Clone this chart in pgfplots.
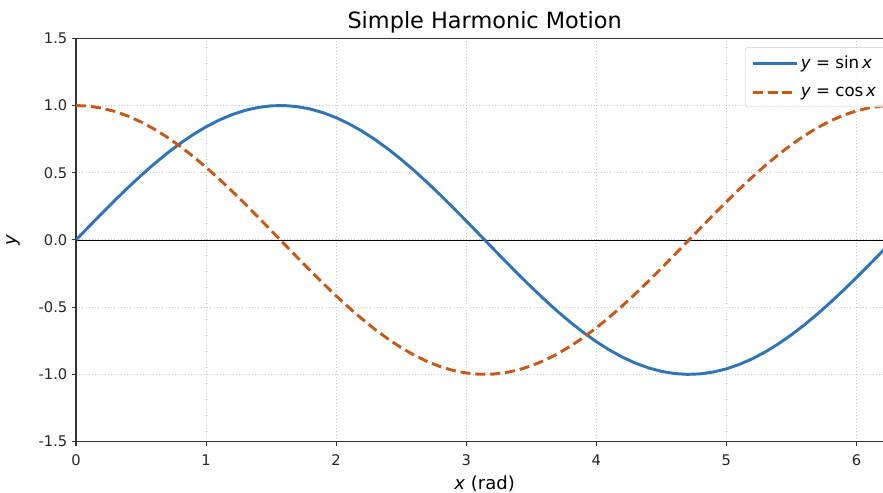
\documentclass[border=0pt]{standalone}
\usepackage{pgfplots}
\pgfplotsset{compat=1.18}
\usepackage{pgfplotstable}
\usepackage{fontspec}
\setmainfont{DejaVu Sans}

\definecolor{sinblue}{RGB}{49,116,182}
\definecolor{cosorange}{RGB}{200,88,24}
\definecolor{spine}{RGB}{51,51,51}

% x, sin x, cos x
\pgfplotstableread{
x      s        c
0.0    0.0000   1.0000
0.1    0.0998   0.9950
0.2    0.1987   0.9801
0.3    0.2955   0.9553
0.4    0.3894   0.9211
0.5    0.4794   0.8776
0.6    0.5646   0.8253
0.7    0.6442   0.7648
0.8    0.7174   0.6967
0.9    0.7833   0.6216
1.0    0.8415   0.5403
1.1    0.8912   0.4536
1.2    0.9320   0.3624
1.3    0.9636   0.2675
1.4    0.9854   0.1700
1.5    0.9975   0.0707
1.6    0.9996  -0.0292
1.7    0.9917  -0.1288
1.8    0.9738  -0.2272
1.9    0.9463  -0.3233
2.0    0.9093  -0.4161
2.1    0.8632  -0.5048
2.2    0.8085  -0.5885
2.3    0.7457  -0.6663
2.4    0.6755  -0.7374
2.5    0.5985  -0.8011
2.6    0.5155  -0.8569
2.7    0.4274  -0.9041
2.8    0.3350  -0.9422
2.9    0.2392  -0.9710
3.0    0.1411  -0.9900
3.1    0.0416  -0.9991
3.2   -0.0584  -0.9983
3.3   -0.1577  -0.9875
3.4   -0.2555  -0.9668
3.5   -0.3508  -0.9365
3.6   -0.4425  -0.8968
3.7   -0.5298  -0.8481
3.8   -0.6119  -0.7910
3.9   -0.6878  -0.7259
4.0   -0.7568  -0.6536
4.1   -0.8183  -0.5748
4.2   -0.8716  -0.4903
4.3   -0.9162  -0.4008
4.4   -0.9516  -0.3073
4.5   -0.9775  -0.2108
4.6   -0.9937  -0.1122
4.7   -0.9999  -0.0124
4.8   -0.9962   0.0875
4.9   -0.9825   0.1865
5.0   -0.9589   0.2837
5.1   -0.9258   0.3780
5.2   -0.8835   0.4685
5.3   -0.8323   0.5544
5.4   -0.7728   0.6347
5.5   -0.7055   0.7087
5.6   -0.6313   0.7756
5.7   -0.5507   0.8347
5.8   -0.4646   0.8855
5.9   -0.3739   0.9275
6.0   -0.2794   0.9602
6.1   -0.1822   0.9833
6.2   -0.0831   0.9965
6.2832 0.0000   1.0000
}\waves

\begin{document}
\begin{tikzpicture}
\begin{axis}[
  width=613pt, height=302.5pt,
  scale only axis,
  xmin=0, xmax=6.2832,
  ymin=-1.5, ymax=1.5,
  xtick={0,1,2,3,4,5,6},
  ytick={-1.5,-1,-0.5,0,0.5,1,1.5},
  xtick pos=bottom, ytick pos=left,
  tick align=outside,
  major tick length=3pt,
  every tick/.style={spine, line width=0.8pt},
  axis line style={spine, line width=0.8pt},
  /pgf/number format/assume math mode=true,
  yticklabel style={/pgf/number format/fixed, /pgf/number format/fixed zerofill,
    /pgf/number format/precision=1},
  xticklabel style={yshift=-3pt},
  ticklabel style={font=\fontsize{11}{13}\selectfont, text=black!85},
  grid=major,
  major grid style={dotted, black!22, line width=0.7pt},
  every axis title shift=0pt,
  title={Simple Harmonic Motion},
  title style={font=\fontsize{16.8}{19}\selectfont,
    at={(axis description cs:0.5,1.023)}, anchor=base},
  xlabel={\textit{x} (rad)},
  xlabel style={font=\fontsize{13.5}{16}\selectfont,
    at={(axis description cs:0.5,-0.119)}, anchor=base},
  ylabel={\textit{y}},
  ylabel style={font=\fontsize{13.5}{16}\selectfont,
    at={(axis description cs:-0.077,0.5)}, anchor=center},
  legend cell align=left,
  legend image code/.code={\path (0pt,0pt) -- (33pt,0pt);
    \draw[#1] (0pt,0pt) -- (30pt,0pt);},
  legend style={at={(axis cs:5.142,1.433)}, anchor=north west,
    font=\fontsize{12.5}{15}\selectfont,
    draw=black!20, fill=white, fill opacity=0.8, text opacity=1,
    rounded corners=2pt, inner sep=4.5pt, row sep=8pt},
]
\addplot[black, line width=0.6pt, forget plot] coordinates {(0,0) (6.2832,0)};
\addplot[sinblue, line width=2.2pt] table[x=x, y=s] {\waves};
\addlegendentry{\textit{y} = sin\,\textit{x}}
\addplot[cosorange, line width=2.2pt, dash pattern=on 7.5pt off 3.7pt] table[x=x, y=c] {\waves};
\addlegendentry{\textit{y} = cos\,\textit{x}}
\end{axis}
\pgfresetboundingbox
\path[use as bounding box] ([xshift=-57pt,yshift=-38.5pt]current axis.south west)
  rectangle ([xshift=605.25pt,yshift=28.7pt]current axis.north west);
\end{tikzpicture}
\end{document}
